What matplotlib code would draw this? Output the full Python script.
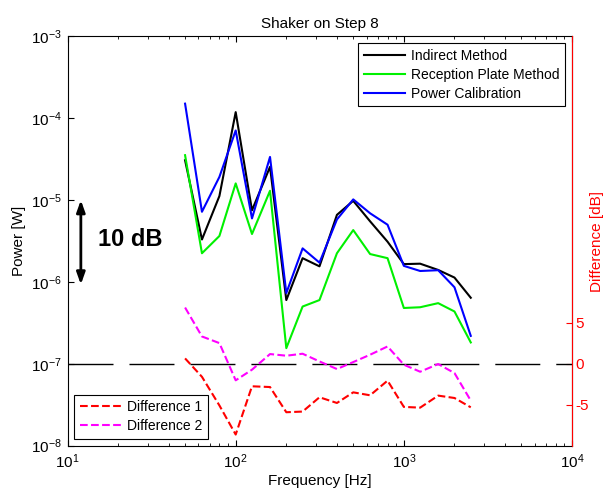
import matplotlib
matplotlib.use("Agg")
import matplotlib.pyplot as plt
from matplotlib.ticker import NullLocator, FixedLocator

plt.rcParams['font.family'] = ['Liberation Sans', 'DejaVu Sans']
plt.rcParams['mathtext.fontset'] = 'custom'
plt.rcParams['mathtext.rm'] = 'Liberation Sans'
plt.rcParams['axes.unicode_minus'] = False

# third-octave band centre frequencies [Hz]
freq = [50, 63, 80, 100, 125, 160, 200, 250, 315, 400, 500, 630, 800,
        1000, 1250, 1600, 2000, 2500]

# power [W]
indirect = [3.07e-5, 3.3e-6, 1.12e-5, 1.19e-4, 7.5e-6, 2.55e-5, 6.0e-7, 1.95e-6,
            1.55e-6, 6.6e-6, 9.8e-6, 5.5e-6, 3.1e-6, 1.65e-6, 1.67e-6, 1.4e-6,
            1.13e-6, 6.4e-7]
reception = [3.54e-5, 2.24e-6, 3.64e-6, 1.6e-5, 3.85e-6, 1.3e-5, 1.55e-7, 5.0e-7,
             6.0e-7, 2.24e-6, 4.3e-6, 2.19e-6, 1.95e-6, 4.8e-7, 4.9e-7, 5.5e-7,
             4.35e-7, 1.82e-7]
calibration = [1.51e-4, 7.2e-6, 1.92e-5, 7.1e-5, 5.97e-6, 3.37e-5, 7.3e-7, 2.57e-6,
               1.72e-6, 5.8e-6, 1.02e-5, 6.9e-6, 5.0e-6, 1.57e-6, 1.36e-6, 1.39e-6,
               8.6e-7, 2.19e-7]

# differences [dB]
diff1 = [0.65, -1.6, -5.1, -8.66, -2.76, -2.85, -5.93, -5.85, -4.1, -4.8, -3.5,
         -3.86, -2.07, -5.28, -5.37, -3.9, -4.19, -5.33]
diff2 = [6.87, 3.33, 2.52, -2.03, -0.73, 1.18, 0.98, 1.22, 0.28, -0.65, 0.2,
         1.1, 2.11, -0.12, -0.98, -0.04, -1.14, -4.51]

fig = plt.figure(figsize=(6.03, 4.93), dpi=100)
ax = fig.add_axes([0.112, 0.0963, 0.8366, 0.8297])

ax.loglog(freq, indirect, color='k', lw=1.5, label='Indirect Method')
ax.loglog(freq, reception, color='#00f000', lw=1.5, label='Reception Plate Method')
ax.loglog(freq, calibration, color='b', lw=1.5, label='Power Calibration')

ax.set_xlim(10, 1e4)
ax.set_ylim(1e-8, 1e-3)
ax.yaxis.set_minor_locator(NullLocator())
ax.tick_params(which='both', direction='in', top=True, right=True, labelsize=11)
ax.tick_params(which='major', length=4)
ax.tick_params(which='minor', length=2.5)
ax.tick_params(axis='x', pad=5)
ax.tick_params(axis='y', pad=4)
for s in ax.spines.values():
    s.set_linewidth(0.8)

ax.set_title('Shaker on Step 8', fontsize=11, pad=6)
ax.set_xlabel('Frequency [Hz]', fontsize=11, labelpad=2)
ax.set_ylabel('Power [W]', fontsize=11, labelpad=4)

leg1 = ax.legend(loc='upper right', fontsize=10, fancybox=False, framealpha=1,
                 edgecolor='k', handlelength=2.95, handletextpad=0.45,
                 labelspacing=0.35, borderaxespad=0.5)
leg1.get_frame().set_linewidth(0.8)

# 10 dB scale marker
ax.annotate('', xy=(12, 9.3e-7), xytext=(12, 1e-5),
            arrowprops=dict(arrowstyle='<|-|>,head_length=0.7,head_width=0.25',
                            lw=2, color='k', shrinkA=0, shrinkB=0,
                            mutation_scale=10))
ax.text(15.1, 3.3e-6, '10 dB', fontsize=17, weight='bold', va='center', ha='left')

# right axis for the differences
ax2 = ax.twinx()
ax2.set_ylim(-10, 40)
ax2.axhline(0, color='k', lw=1, linestyle=(0, (32.4, 11.5)))
ax2.plot(freq, diff1, color='r', lw=1.5, linestyle='--', label='Difference 1')
ax2.plot(freq, diff2, color='#ff00ff', lw=1.5, linestyle='--', label='Difference 2')
ax2.set_xlim(10, 1e4)
ax2.yaxis.set_major_locator(FixedLocator([-5, 0, 5]))
ax2.tick_params(axis='y', direction='in', colors='r', labelsize=11, length=4, pad=2.5)
for k in ['left', 'top', 'bottom']:
    ax2.spines[k].set_visible(False)
ax2.spines['right'].set_color('r')
ax2.spines['right'].set_linewidth(0.8)
ax2.set_ylabel('Difference [dB]', color='r', fontsize=11, labelpad=0.5)

leg2 = ax2.legend(loc='lower left', fontsize=10, fancybox=False, framealpha=1,
                  edgecolor='k', handlelength=2.95, handletextpad=0.45,
                  labelspacing=0.35, borderaxespad=0.5)
leg2.get_frame().set_linewidth(0.8)

fig.savefig('out.png', dpi=100)
